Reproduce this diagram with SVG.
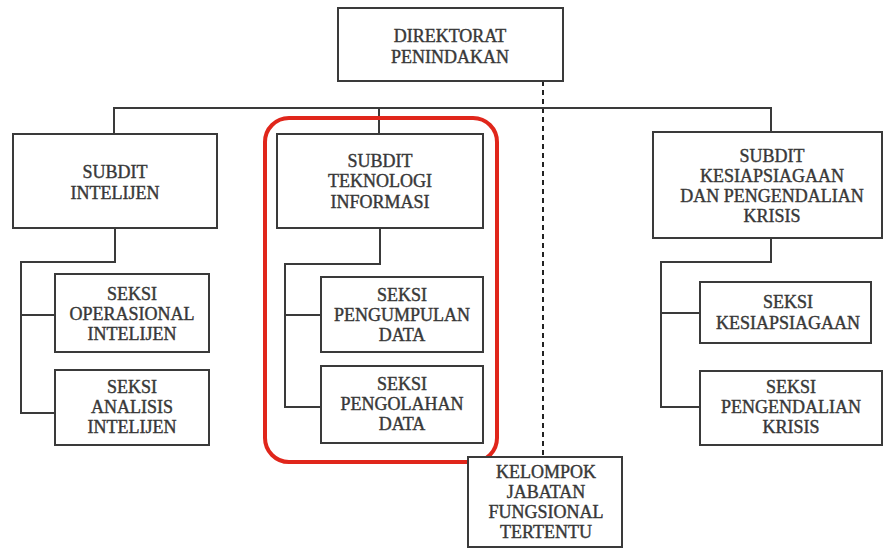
<svg xmlns="http://www.w3.org/2000/svg" width="883" height="549" viewBox="0 0 883 549">
<style>
.box{fill:#fff;stroke:#3a3a3a;stroke-width:2}
.ln{fill:none;stroke:#3a3a3a;stroke-width:2}
.dash{fill:none;stroke:#222;stroke-width:2;stroke-dasharray:5 4}
.t{font-family:"Liberation Serif","DejaVu Serif",serif;font-size:18px;fill:#383838;text-anchor:middle;stroke:#383838;stroke-width:0.4}
</style>
<rect width="883" height="549" fill="#fff"/>
<g id="connectors">
<path class="dash" d="M543 81 V457"/>
<path class="ln" d="M114 134 V108 H771 V132"/>
<path class="ln" d="M379 108 V134"/>
<path class="ln" d="M115 228 V262 H21 V413 H55 M21 315 H55"/>
<path class="ln" d="M380 228 V264 H285 V407 H321 M285 315 H321"/>
<path class="ln" d="M771 238 V262 H661 V407 H700 M661 313 H700"/>
</g>
<g id="highlight"><rect x="265" y="118" width="232" height="344" rx="24" fill="none" stroke="#e0261b" stroke-width="4"/></g>
<g id="direktorat"><rect class="box" x="338" y="8" width="225" height="73"/><text class="t" x="450" y="42">DIREKTORAT</text><text class="t" x="450" y="63">PENINDAKAN</text></g>
<g id="subdit-intelijen"><rect class="box" x="13" y="134" width="204" height="94"/><text class="t" x="115" y="178">SUBDIT</text><text class="t" x="115" y="199">INTELIJEN</text></g>
<g id="seksi-operasional"><rect class="box" x="55" y="274" width="154" height="78"/><text class="t" x="132" y="300">SEKSI</text><text class="t" x="132" y="320">OPERASIONAL</text><text class="t" x="132" y="340">INTELIJEN</text></g>
<g id="seksi-analisis"><rect class="box" x="55" y="370" width="154" height="75"/><text class="t" x="132" y="393">SEKSI</text><text class="t" x="132" y="413">ANALISIS</text><text class="t" x="132" y="433">INTELIJEN</text></g>
<g id="subdit-ti"><rect class="box" x="277" y="134" width="206" height="94"/><text class="t" x="380" y="167">SUBDIT</text><text class="t" x="380" y="187">TEKNOLOGI</text><text class="t" x="380" y="208">INFORMASI</text></g>
<g id="seksi-pengumpulan"><rect class="box" x="321" y="277" width="162" height="75"/><text class="t" x="402" y="301">SEKSI</text><text class="t" x="402" y="321">PENGUMPULAN</text><text class="t" x="402" y="341">DATA</text></g>
<g id="seksi-pengolahan"><rect class="box" x="321" y="366" width="162" height="77"/><text class="t" x="402" y="390">SEKSI</text><text class="t" x="402" y="410">PENGOLAHAN</text><text class="t" x="402" y="430">DATA</text></g>
<g id="subdit-kpk"><rect class="box" x="653" y="132" width="229" height="106"/><text class="t" x="772" y="162">SUBDIT</text><text class="t" x="772" y="182">KESIAPSIAGAAN</text><text class="t" x="772" y="202">DAN PENGENDALIAN</text><text class="t" x="772" y="222">KRISIS</text></g>
<g id="seksi-kesiapsiagaan"><rect class="box" x="700" y="282" width="171" height="61"/><text class="t" x="788" y="308">SEKSI</text><text class="t" x="788" y="329">KESIAPSIAGAAN</text></g>
<g id="seksi-pengendalian"><rect class="box" x="700" y="371" width="182" height="74"/><text class="t" x="791" y="393">SEKSI</text><text class="t" x="791" y="413">PENGENDALIAN</text><text class="t" x="791" y="433">KRISIS</text></g>
<g id="kelompok"><rect class="box" x="468" y="457" width="154" height="90"/><text class="t" x="546" y="478">KELOMPOK</text><text class="t" x="546" y="498">JABATAN</text><text class="t" x="546" y="518">FUNGSIONAL</text><text class="t" x="546" y="538">TERTENTU</text></g>
</svg>
